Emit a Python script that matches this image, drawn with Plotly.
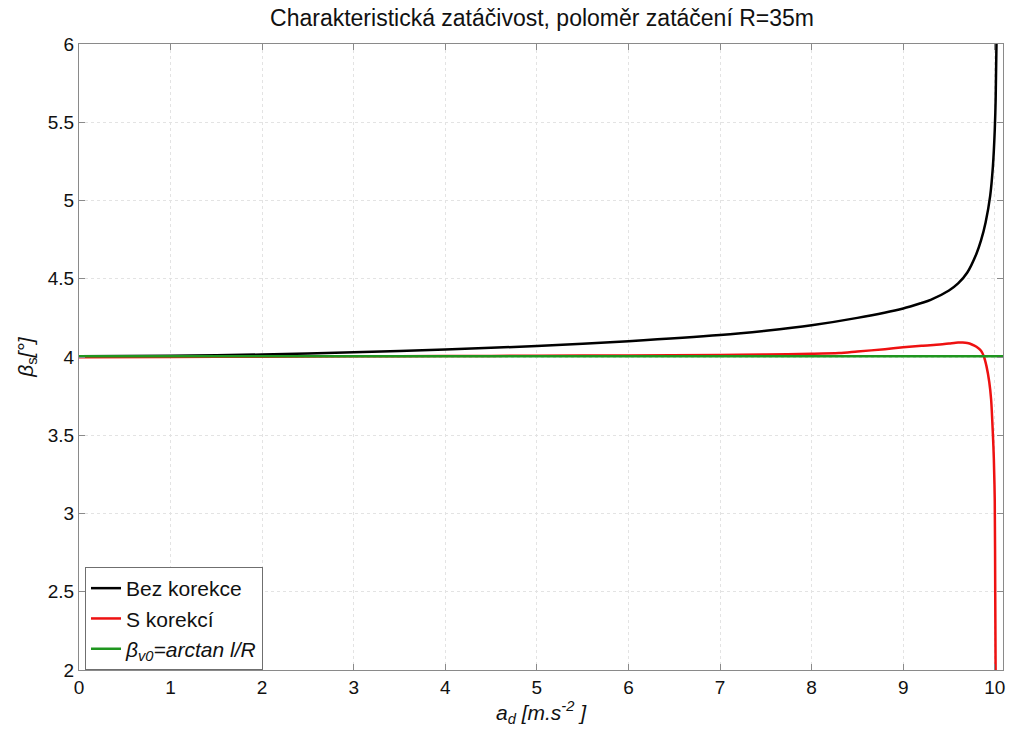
import plotly.graph_objects as go

# Data
x_black = [0, 1, 2, 3, 4, 5, 6, 7, 7.5, 8, 8.5, 9, 9.2, 9.3, 9.5, 9.6, 9.7, 9.8, 9.85,
           9.9, 9.95, 9.98, 10.0, 10.01, 10.02]
y_black = [4.004, 4.008, 4.016, 4.03, 4.048, 4.07, 4.101, 4.14, 4.168, 4.203, 4.25, 4.31,
           4.345, 4.365, 4.425, 4.47, 4.54, 4.66, 4.745, 4.86, 5.03, 5.22, 5.45, 5.65, 6.05]

x_red = [0, 1, 2, 3, 4, 5, 6, 7, 7.5, 8, 8.3, 8.5, 8.8, 9, 9.2, 9.4, 9.5, 9.6, 9.65,
         9.7, 9.75, 9.8, 9.85, 9.88, 9.91, 9.94, 9.96, 9.98, 9.99, 10.0, 10.005, 10.01]
y_red = [3.998, 4.0, 4.002, 4.004, 4.006, 4.008, 4.01, 4.013, 4.016, 4.02, 4.025, 4.035,
         4.05, 4.062, 4.072, 4.08, 4.086, 4.092, 4.092, 4.089, 4.08, 4.065, 4.04, 4.005,
         3.94, 3.84, 3.73, 3.5, 3.35, 3.08, 2.5, 1.9]

x_green = [0, 10.09]
y_green = [4.004, 4.004]

x_ticks = [0, 1, 2, 3, 4, 5, 6, 7, 8, 9, 10]
y_ticks = [2, 2.5, 3, 3.5, 4, 4.5, 5, 5.5, 6]

series_names = ["Bez korekce", "S korekcí", "<i>β<sub>v0</sub>=arctan l/R</i>"]

FONT = "Liberation Sans, Arial, sans-serif"

fig = go.Figure()
fig.add_trace(go.Scatter(x=x_black, y=y_black, mode="lines", name=series_names[0],
                         line=dict(color="#000000", width=2.5, shape="spline", smoothing=0.8)))
fig.add_trace(go.Scatter(x=x_red, y=y_red, mode="lines", name=series_names[1],
                         line=dict(color="#ee1111", width=2.5, shape="spline", smoothing=0.8)))
fig.add_trace(go.Scatter(x=x_green, y=y_green, mode="lines", name=series_names[2],
                         line=dict(color="#1f961f", width=2.5)))

axis_common = dict(
    showline=True, linecolor="#8a8a8a", linewidth=1, mirror="ticks",
    ticks="inside", ticklen=6, tickcolor="#8a8a8a",
    showgrid=True, gridcolor="#e3e3e3", griddash="dot", gridwidth=1,
    zeroline=False, tickfont=dict(family=FONT, size=19, color="#111111"),
)

fig.update_layout(
    width=1012, height=731,
    margin=dict(l=79, r=7, t=44, b=61),
    paper_bgcolor="white", plot_bgcolor="white",
    title=dict(text="Charakteristická zatáčivost, poloměr zatáčení R=35m",
               x=(79 + 1005) / 2 / 1012, xanchor="center", y=0.976, yanchor="middle",
               font=dict(family=FONT, size=23, color="#111111")),
    xaxis=dict(range=[0, 10.09], tickvals=x_ticks,
               title=dict(text="<i>a<sub>d</sub> [m.s<sup>-2</sup> ]</i>",
                          font=dict(family=FONT, size=21, color="#111111"), standoff=4),
               **axis_common),
    yaxis=dict(range=[2, 6], tickvals=y_ticks,
               title=dict(text="<i>β</i><sub>s</sub><i>[°]</i>",
                          font=dict(family=FONT, size=21, color="#111111"), standoff=8),
               **axis_common),
    legend=dict(x=0.0065, y=0.0, xanchor="left", yanchor="bottom",
                bgcolor="white", bordercolor="#6f6f6f", borderwidth=1,
                font=dict(family=FONT, size=21, color="#111111"),
                tracegroupgap=0),
    showlegend=True,
)

fig.write_html("out.html")
